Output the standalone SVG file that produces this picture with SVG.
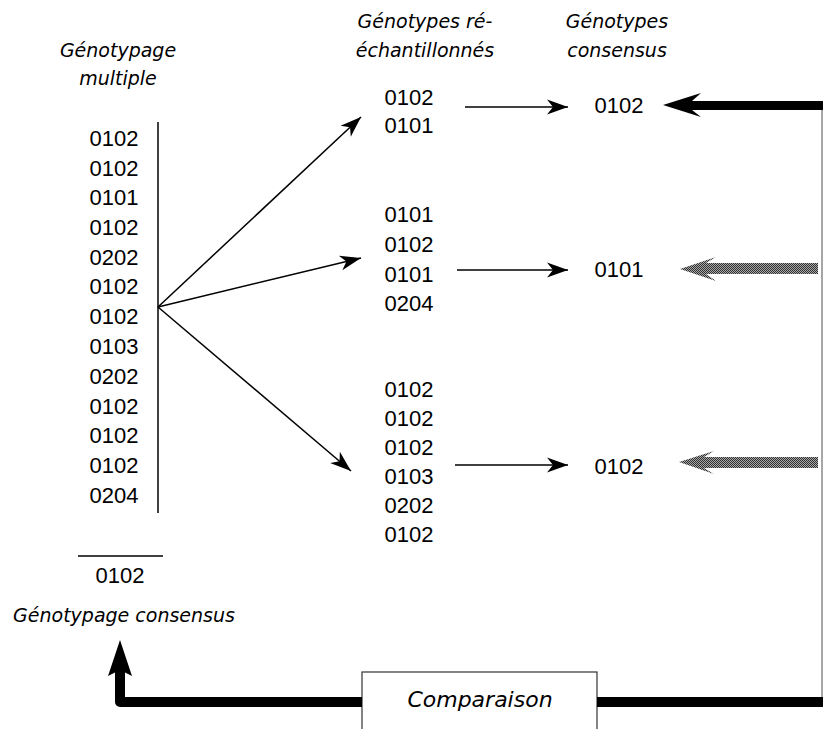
<svg xmlns="http://www.w3.org/2000/svg" width="823" height="729" viewBox="0 0 823 729">
  <style>
    .num { font-family: "Liberation Sans", "DejaVu Sans", sans-serif; font-size: 22px; fill: #000; text-anchor: middle; }
    .lbl { font-family: "DejaVu Sans", "Liberation Sans", sans-serif; font-style: italic; font-size: 19px; fill: #000; text-anchor: middle; }
    .thin { stroke: #000; stroke-width: 1.5; fill: none; }
    .arr { stroke: #000; stroke-width: 1.5; fill: none; marker-end: url(#head); }
  </style>
  <defs>
    <marker id="head" markerUnits="userSpaceOnUse" markerWidth="24" markerHeight="16" viewBox="-21 -8 23 16" refX="0" refY="0" orient="auto">
      <path d="M0,0 L-21,-7.5 L-15,0 L-21,7.5 Z" fill="#000"/>
    </marker>
    <pattern id="dither" patternUnits="userSpaceOnUse" width="2" height="2">
      <rect width="2" height="2" fill="#a8a8a8"/>
      <rect width="1" height="1" fill="#303030"/>
      <rect x="1" y="1" width="1" height="1" fill="#303030"/>
    </pattern>
  </defs>

  <rect width="823" height="729" fill="#fff"/>

  <!-- multiple genotyping -->
  <g id="multiple">
    <text class="lbl" x="118" y="57">Génotypage</text>
    <text class="lbl" x="118" y="85">multiple</text>
    <text class="num" x="114" y="146">0102</text>
    <text class="num" x="114" y="176">0102</text>
    <text class="num" x="114" y="205">0101</text>
    <text class="num" x="114" y="235">0102</text>
    <text class="num" x="114" y="265">0202</text>
    <text class="num" x="114" y="294">0102</text>
    <text class="num" x="114" y="324">0102</text>
    <text class="num" x="114" y="354">0103</text>
    <text class="num" x="114" y="384">0202</text>
    <text class="num" x="114" y="414">0102</text>
    <text class="num" x="114" y="443">0102</text>
    <text class="num" x="114" y="473">0102</text>
    <text class="num" x="114" y="503">0204</text>
    <line class="thin" x1="158" y1="122" x2="158" y2="513"/>
  </g>

  <!-- consensus of the multiple genotyping -->
  <g id="consensus-final">
    <line class="thin" x1="78" y1="556" x2="163" y2="556"/>
    <text class="num" x="120" y="583">0102</text>
    <text class="lbl" x="124" y="622">Génotypage consensus</text>
  </g>

  <!-- resampled genotypes -->
  <g id="resampled">
    <text class="lbl" x="425" y="28">Génotypes ré-</text>
    <text class="lbl" x="425" y="57">échantillonnés</text>
    <text class="num" x="409" y="105">0102</text>
    <text class="num" x="409" y="133">0101</text>
    <text class="num" x="409" y="222">0101</text>
    <text class="num" x="409" y="252">0102</text>
    <text class="num" x="409" y="282">0101</text>
    <text class="num" x="409" y="311">0204</text>
    <text class="num" x="409" y="397">0102</text>
    <text class="num" x="409" y="426">0102</text>
    <text class="num" x="409" y="455">0102</text>
    <text class="num" x="409" y="484">0103</text>
    <text class="num" x="409" y="513">0202</text>
    <text class="num" x="409" y="542">0102</text>
  </g>

  <!-- consensus genotypes -->
  <g id="consensus">
    <text class="lbl" x="617" y="28">Génotypes</text>
    <text class="lbl" x="617" y="57">consensus</text>
    <text class="num" x="619" y="113">0102</text>
    <text class="num" x="619" y="277">0101</text>
    <text class="num" x="619" y="474">0102</text>
  </g>

  <!-- comparison box -->
  <g id="comparaison">
    <rect x="362" y="672" width="235" height="70" fill="#fff" stroke="#333" stroke-width="1.2"/>
    <text class="lbl" x="480" y="707" style="font-size:22px">Comparaison</text>
  </g>

  <g id="connectors">
    <!-- resampling fan -->
    <line class="arr" x1="158" y1="307" x2="361" y2="117"/>
    <line class="arr" x1="158" y1="307" x2="361" y2="258"/>
    <line class="arr" x1="158" y1="307" x2="351" y2="471"/>
    <!-- consensus arrows -->
    <line class="arr" x1="465" y1="107" x2="568" y2="107"/>
    <line class="arr" x1="457" y1="270" x2="568" y2="270"/>
    <line class="arr" x1="455" y1="465" x2="568" y2="465"/>

    <!-- return line on the right -->
    <line x1="822" y1="108" x2="822" y2="700" stroke="#888" stroke-width="1.5"/>
    <polygon points="663,105 701,93 692,101 823,101 823,110 692,110 701,117" fill="#000"/>
    <polygon points="680,269 716,257 706,263 818,263 818,274 706,274 716,281" fill="url(#dither)"/>
    <polygon points="679,462 714,451 704,457 818,457 818,468 704,468 714,474" fill="url(#dither)"/>

    <!-- feedback to consensus genotyping -->
    <path d="M597,702 H823" stroke="#000" stroke-width="10" fill="none"/>
    <path d="M362,702 H120 V668" stroke="#000" stroke-width="10" fill="none" stroke-linejoin="round"/>
    <polygon points="120,640 132,676 120,670 108,676" fill="#000"/>
  </g>
</svg>
